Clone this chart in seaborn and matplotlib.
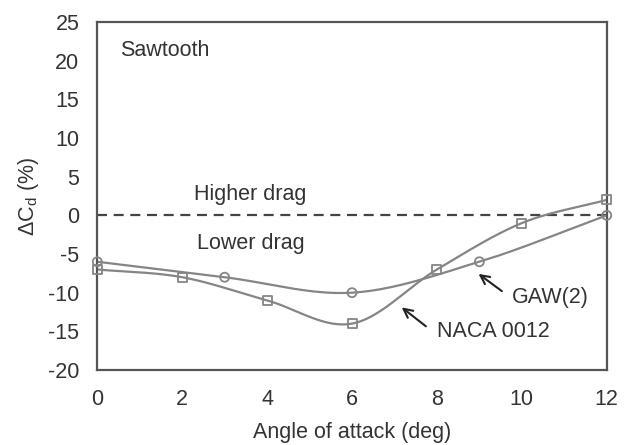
import numpy as np
import pandas as pd
import matplotlib
matplotlib.use("Agg")
import matplotlib.pyplot as plt
import seaborn as sns

# Drag change relative to the baseline aerofoil, sawtooth trailing edge
naca_alpha = [0, 2, 4, 6, 8, 10, 12]
naca_dcd = [-7, -8, -11, -14, -7, -1, 2]
gaw_alpha = [0, 3, 6, 9, 12]
gaw_dcd = [-6, -8, -10, -6, 0]

x_ticks = [0, 2, 4, 6, 8, 10, 12]
y_ticks = [-20, -15, -10, -5, 0, 5, 10, 15, 20, 25]

LINE = "#858585"
INK = "#333333"
FS = 15.5


def smooth(xs, ys, n=40):
    """Catmull-Rom spline through the points (spreadsheet-style smoothed line)."""
    p = np.column_stack([xs, ys]).astype(float)
    p = np.vstack([p[0] - (p[1] - p[0]), p, p[-1] + (p[-1] - p[-2])])
    out = []
    t = np.linspace(0, 1, n)[:, None]
    for i in range(1, len(p) - 2):
        p0, p1, p2, p3 = p[i - 1], p[i], p[i + 1], p[i + 2]
        c1 = p1 + (p2 - p0) / 6
        c2 = p2 - (p3 - p1) / 6
        seg = ((1 - t) ** 3) * p1 + 3 * ((1 - t) ** 2) * t * c1 + 3 * (1 - t) * t ** 2 * c2 + t ** 3 * p2
        out.append(seg if i == 1 else seg[1:])
    seg = np.vstack(out)
    return pd.DataFrame({"x": seg[:, 0], "y": seg[:, 1]})


sns.set_theme(style="white")
plt.rcParams["font.family"] = ["Liberation Sans", "DejaVu Sans"]
plt.rcParams["mathtext.fontset"] = "custom"
plt.rcParams["mathtext.rm"] = "Liberation Sans"
plt.rcParams["axes.unicode_minus"] = False

fig = plt.figure(figsize=(6.36, 4.45), dpi=100)
ax = fig.add_axes([0.153, 0.1685, 0.801, 0.782])

# zero line separating higher / lower drag
ax.axhline(0, color="#444444", lw=1.6, ls=(0, (4.5, 3)), zorder=1)

sns.lineplot(data=smooth(naca_alpha, naca_dcd), x="x", y="y", sort=False,
             color=LINE, lw=1.6, ax=ax, zorder=2)
sns.lineplot(data=smooth(gaw_alpha, gaw_dcd), x="x", y="y", sort=False,
             color=LINE, lw=1.6, ax=ax, zorder=2)
sns.scatterplot(x=naca_alpha, y=naca_dcd, marker="s", s=42, facecolor="none",
                edgecolor=LINE, linewidth=1.3, ax=ax, zorder=3, clip_on=False)
sns.scatterplot(x=gaw_alpha, y=gaw_dcd, marker="o", s=42, facecolor="none",
                edgecolor=LINE, linewidth=1.3, ax=ax, zorder=3, clip_on=False)

ax.set_xlim(0, 12)
ax.set_ylim(-20, 25)
ax.set_xticks(x_ticks)
ax.set_yticks(y_ticks)
ax.tick_params(direction="in", length=7, width=1.4, color="#444444",
               labelsize=FS, labelcolor=INK)
ax.tick_params(axis="y", pad=13)
ax.tick_params(axis="x", pad=14)
for s in ax.spines.values():
    s.set_color("#555555")
    s.set_linewidth(1.6)

ax.set_xlabel("Angle of attack (deg)", fontsize=FS, color=INK)
ax.xaxis.set_label_coords(0.5, -0.148)
ax.set_ylabel(r"ΔC$_\mathregular{d}$ (%)", fontsize=FS, color=INK)
ax.yaxis.set_label_coords(-0.110, 0.5)

ax.text(0.53, 21.3, "Sawtooth", fontsize=FS, color=INK, va="center", ha="left")
ax.text(3.6, 2.75, "Higher drag", fontsize=FS, color=INK, va="center", ha="center")
ax.text(3.62, -3.7, "Lower drag", fontsize=FS, color=INK, va="center", ha="center")

arrow = dict(arrowstyle="->", color="#222222", lw=1.5, mutation_scale=16,
             shrinkA=0, shrinkB=0)
ax.annotate("", xy=(8.98, -7.57), xytext=(9.53, -9.8), arrowprops=arrow)
ax.text(10.68, -10.6, "GAW(2)", fontsize=FS, color=INK, va="center", ha="center")
ax.annotate("", xy=(7.17, -11.9), xytext=(7.74, -14.35), arrowprops=arrow)
ax.text(9.33, -15.0, "NACA 0012", fontsize=FS, color=INK, va="center", ha="center")

fig.savefig("out.png", dpi=100)
